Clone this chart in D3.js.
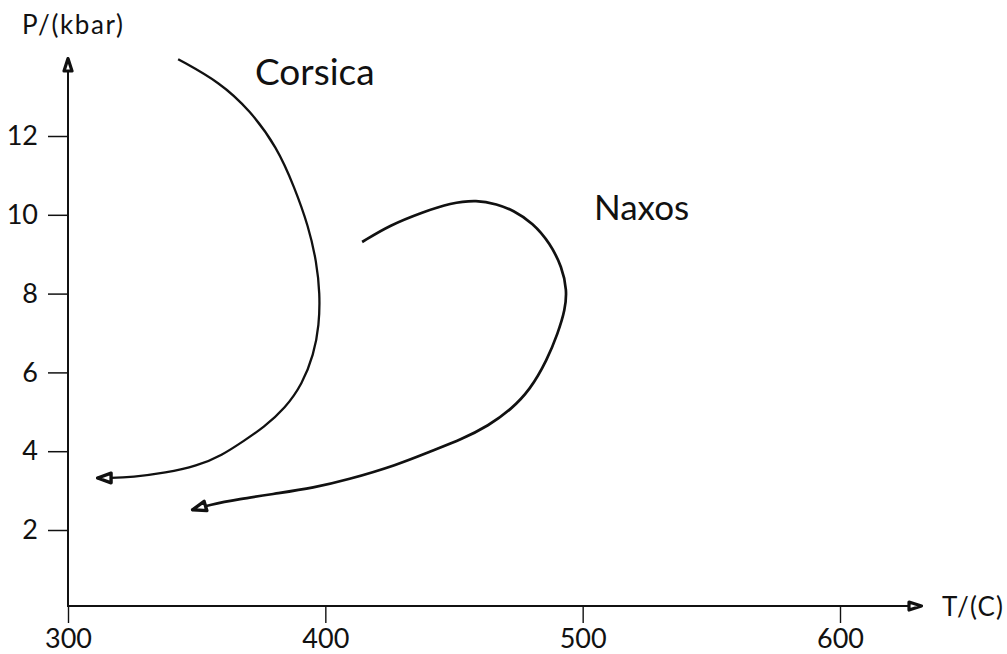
<!DOCTYPE html>
<html>
<head>
<meta charset="utf-8">
<script src="https://cdn.jsdelivr.net/npm/d3@7"></script>
<style>
  html, body { margin: 0; padding: 0; background: #fff; }
  svg { display: block; }
  text { font-family: Lato, "DejaVu Sans", sans-serif; fill: #111; }
</style>
</head>
<body>
<svg id="chart" width="1007" height="654"></svg>
<script>
// ---- data ----
const xTicks = [300, 400, 500, 600];
const yTicks = [2, 4, 6, 8, 10, 12];
const xLabel = "T/(C)";
const yLabel = "P/(kbar)";

// Corsica P-T path (T in °C, P in kbar), from start to arrow tip
const corsicaT = [342.8, 359.1, 370.7, 381.2, 388.0, 393.5, 396.6, 397.9, 397.6, 395.5, 391.0, 384.5, 376.0, 368.0, 360.0, 350.0, 338.0, 325.0, 316.0, 311.3];
const corsicaP = [13.95, 13.36, 12.65, 11.72, 10.70, 9.70, 8.80, 8.00, 7.20, 6.45, 5.70, 5.10, 4.60, 4.25, 3.90, 3.62, 3.45, 3.34, 3.32, 3.32];

// Naxos P-T path
const naxosT = [414.3, 425.1, 438.0, 448.5, 459.0, 466.7, 472.9, 480.7, 487.3, 492.0, 493.9, 493.2, 490.4, 486.2, 479.6, 472.0, 463.5, 453.0, 441.0, 427.9, 408.4, 395.2, 382.4, 366.0, 355.0, 348.2];
const naxosP = [9.31, 9.74, 10.07, 10.30, 10.38, 10.27, 10.12, 9.79, 9.28, 8.67, 8.09, 7.59, 7.00, 6.32, 5.56, 5.05, 4.65, 4.30, 4.00, 3.65, 3.27, 3.07, 2.94, 2.78, 2.64, 2.51];

const seriesNames = ["Corsica", "Naxos"];

// ---- layout ----
const svg = d3.select("#chart");
const x = d3.scaleLinear().domain([300, 600]).range([68, 840]);
const y = d3.scaleLinear().domain([0, 12]).range([608.8, 136]);
const axisY = 606;      // pixel row of the T axis
const axisXEnd = 922;   // arrow tip of T axis
const axisYTop = 58;    // arrow tip of P axis

// arrow markers
const defs = svg.append("defs");
defs.append("marker")
  .attr("id", "axisArrow")
  .attr("viewBox", "0 0 16 12")
  .attr("refX", 15).attr("refY", 6)
  .attr("markerWidth", 16).attr("markerHeight", 12)
  .attr("markerUnits", "userSpaceOnUse")
  .attr("orient", "auto")
  .append("path")
  .attr("d", "M2,2 L14.5,6 L2,10 Z")
  .attr("fill", "#fff").attr("stroke", "#111").attr("stroke-width", 3.2)
  .attr("stroke-linejoin", "round");

defs.append("marker")
  .attr("id", "pathArrow")
  .attr("viewBox", "0 0 18 14")
  .attr("refX", 16.5).attr("refY", 7)
  .attr("markerWidth", 18).attr("markerHeight", 14)
  .attr("markerUnits", "userSpaceOnUse")
  .attr("orient", "auto")
  .append("path")
  .attr("d", "M2.5,2.2 L16,7 L2.5,11.8 Z")
  .attr("fill", "#fff").attr("stroke", "#111").attr("stroke-width", 3.4)
  .attr("stroke-linejoin", "round");

// P axis
svg.append("line")
  .attr("x1", x(300)).attr("x2", x(300))
  .attr("y1", axisY + 1).attr("y2", axisYTop)
  .attr("stroke", "#111").attr("stroke-width", 2)
  .attr("marker-end", "url(#axisArrow)");

// T axis
svg.append("line")
  .attr("x1", x(300) - 1).attr("x2", axisXEnd)
  .attr("y1", axisY).attr("y2", axisY)
  .attr("stroke", "#111").attr("stroke-width", 2.2)
  .attr("marker-end", "url(#axisArrow)");

// y ticks (left side)
const yAxis = d3.axisLeft(y).tickValues(yTicks).tickSize(20).tickPadding(10).tickFormat(d3.format("d"));
const gy = svg.append("g").attr("transform", `translate(${x(300)},0)`).call(yAxis);
gy.select(".domain").remove();
gy.selectAll(".tick line").attr("stroke", "#111").attr("stroke-width", 1.5);
gy.selectAll(".tick text").attr("font-size", 27).attr("font-family", "Lato, sans-serif").attr("fill", "#111");

// x ticks (below)
const xAxis = d3.axisBottom(x).tickValues(xTicks).tickSize(17).tickPadding(6).tickFormat(d3.format("d"));
const gx = svg.append("g").attr("transform", `translate(0,${axisY})`).call(xAxis);
gx.select(".domain").remove();
gx.selectAll(".tick line").attr("stroke", "#111").attr("stroke-width", 1.4);
gx.selectAll(".tick text").attr("font-size", 27).attr("font-family", "Lato, sans-serif").attr("fill", "#111");

// axis labels
svg.append("text").attr("x", 22).attr("y", 34).attr("font-size", 26).attr("letter-spacing", 1.6).text(yLabel);
svg.append("text").attr("x", 942).attr("y", 616).attr("font-size", 26).attr("letter-spacing", 1.2).text(xLabel);

// paths
const line = d3.line().x(d => x(d[0])).y(d => y(d[1])).curve(d3.curveBasis);
const corsica = corsicaT.map((t, i) => [t, corsicaP[i]]);
const naxos = naxosT.map((t, i) => [t, naxosP[i]]);

svg.append("path").datum(corsica)
  .attr("d", line).attr("fill", "none").attr("stroke", "#111").attr("stroke-width", 2.3)
  .attr("marker-end", "url(#pathArrow)");
svg.append("path").datum(naxos)
  .attr("d", line).attr("fill", "none").attr("stroke", "#111").attr("stroke-width", 2.7)
  .attr("marker-end", "url(#pathArrow)");

// series labels
svg.append("text").attr("x", 255).attr("y", 85).attr("font-size", 37).text(seriesNames[0]);
svg.append("text").attr("x", 594).attr("y", 220).attr("font-size", 35).text(seriesNames[1]);
</script>
</body>
</html>
